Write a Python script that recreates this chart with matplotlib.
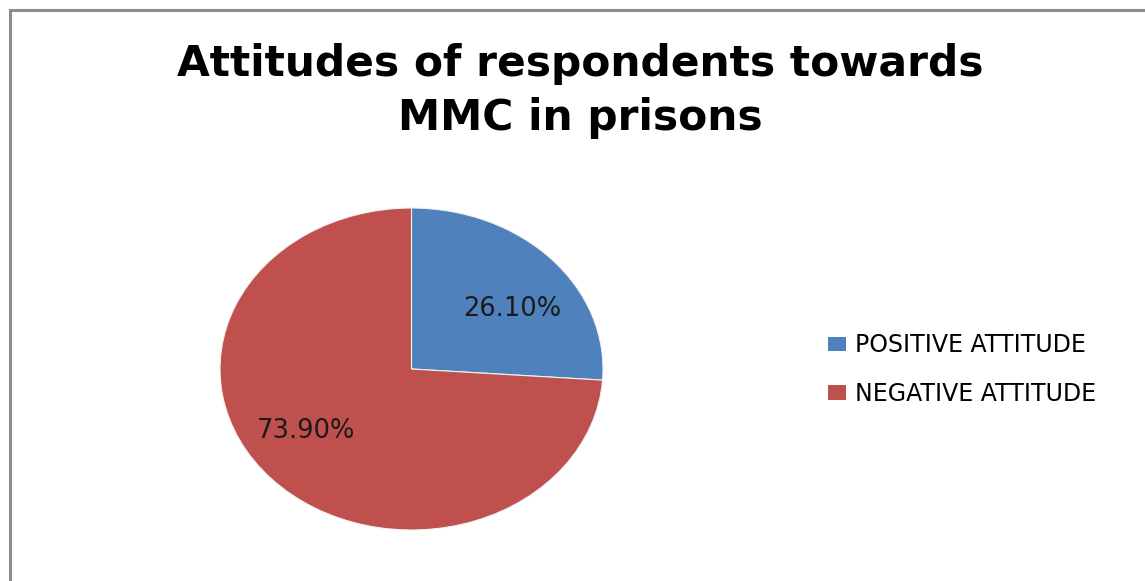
import numpy as np
import matplotlib.pyplot as plt
from matplotlib.lines import Line2D
from matplotlib.patches import Patch

# Share of respondents by attitude
labels = ['POSITIVE ATTITUDE', 'NEGATIVE ATTITUDE']
shares = [26.10, 73.90]
colors = ['#4F81BD', '#C0504D']
title = 'Attitudes of respondents towards\nMMC in prisons'

W, H = 1145, 581
plt.rcParams['font.family'] = ['DejaVu Sans']

fig = plt.figure(figsize=(W / 100, H / 100), dpi=100)

# gray chart-area border (top and left only are in view)
frame_kw = dict(color='#8C8C8C', linewidth=2.2, transform=fig.transFigure)
fig.add_artist(Line2D([10 / W, 1], [1 - 10 / H, 1 - 10 / H], **frame_kw))
fig.add_artist(Line2D([10 / W, 10 / W], [1 - 10 / H, 0], **frame_kw))

fig.text(580 / W, 1 - 91 / H, title, ha='center', va='center',
         fontsize=30.5, fontweight='bold', linespacing=1.38)

# pie is drawn as an ellipse, like the spreadsheet original
ax = fig.add_axes([220 / W, 1 - 530 / H, 383 / W, 322 / H])
wedges, _, autotexts = ax.pie(
    shares,
    colors=colors,
    startangle=90,
    counterclock=False,
    autopct=lambda p: f'{p:.2f}%',
    wedgeprops=dict(edgecolor='#F2F2F2', linewidth=0.8),
    textprops=dict(fontsize=18.5, color='#1A1A1A'),
)
# nudge the percentage labels a little clockwise of each wedge's middle
for w, t, r in zip(wedges, autotexts, [0.645, 0.675]):
    ang = np.deg2rad((w.theta1 + w.theta2) / 2 - 8)
    t.set_position((r * np.cos(ang), r * np.sin(ang)))
ax.set_aspect('auto')
ax.set_xlim(-1, 1)
ax.set_ylim(-1, 1)
ax.axis('off')

handles = [Patch(facecolor=c, edgecolor='none') for c in colors]
fig.legend(handles, labels, loc='center left',
           bbox_to_anchor=(828 / W, 1 - 369.5 / H), frameon=False,
           borderpad=0, borderaxespad=0,
           fontsize=17, handlelength=0.76, handleheight=0.55,
           handletextpad=0.38, labelspacing=1.05)

fig.savefig('out.png', dpi=100)
